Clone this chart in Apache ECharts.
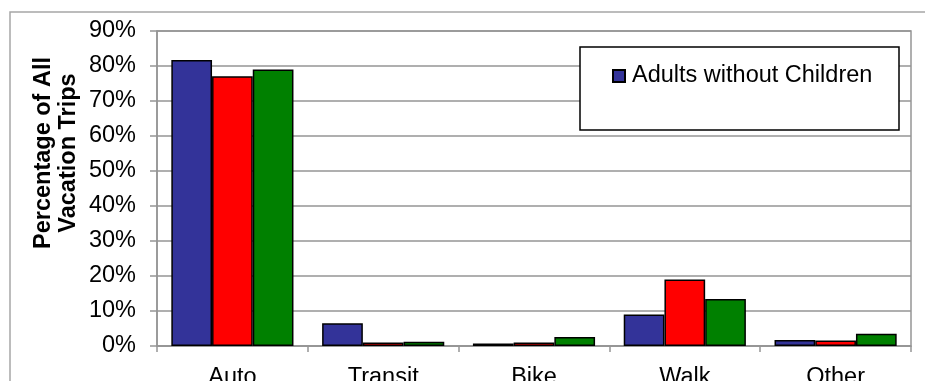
<!DOCTYPE html>
<html>
<head>
<meta charset="utf-8">
<script src="https://cdn.jsdelivr.net/npm/echarts@6/dist/echarts.min.js"></script>
<style>
html,body{margin:0;padding:0;background:#fff;}
#chart{width:925px;height:381px;}
</style>
</head>
<body>
<div id="chart"></div>
<script>
const categories = ['Auto', 'Transit', 'Bike', 'Walk', 'Other'];
const seriesNames = ['Adults without Children', 'Adults with Children', 'All Households'];
const adultsNoChildren = [81.7, 6.5, 0.7, 9.0, 1.7];
const adultsWithChildren = [77.1, 1.0, 1.0, 19.0, 1.6];
const allTrips = [79.0, 1.2, 2.6, 13.4, 3.5];
const yTicks = [0, 10, 20, 30, 40, 50, 60, 70, 80, 90];
const colors = ['#333399', '#FF0000', '#008000'];
const legendShown = ['Adults without Children'];

const FONT = 'Liberation Sans, Arial, sans-serif';
const chart = echarts.init(document.getElementById('chart'), null, {renderer: 'canvas'});
const allSeries = [adultsNoChildren, adultsWithChildren, allTrips];

chart.setOption({
  animation: false,
  backgroundColor: '#ffffff',
  grid: {left: 157, right: 14, top: 31, bottom: 35, show: true, borderColor: '#959595', borderWidth: 1.5,
    containLabel: false, outerBoundsMode: 'none'},
  graphic: [
    {type: 'rect', z: 0, shape: {x: 10, y: 12, width: 1000, height: 1000}, style: {fill: 'none', stroke: '#a6a6a6', lineWidth: 1.5}},
    {type: 'text', z: 10, x: 56, y: 153, rotation: Math.PI / 2,
      style: {text: 'Percentage of All\nVacation Trips', font: 'bold 23.5px ' + FONT, fill: '#000', align: 'center', verticalAlign: 'middle', lineHeight: 25}},
    {type: 'rect', z: 20, shape: {x: 580, y: 47, width: 319, height: 83}, style: {fill: '#ffffff', stroke: '#000000', lineWidth: 1.5}}
  ],
  legend: {
    data: legendShown, z: 30, left: 612, top: 64, padding: 0,
    itemWidth: 12, itemHeight: 12, itemGap: 10, icon: 'rect',
    textStyle: {fontFamily: FONT, fontSize: 23.5, color: '#000', padding: [0, 0, 0, 2]}
  },
  xAxis: {
    type: 'category', data: categories,
    axisLine: {lineStyle: {color: '#959595', width: 1.5}},
    axisTick: {show: true, length: 6, alignWithLabel: false, lineStyle: {color: '#959595', width: 1.5}},
    axisLabel: {fontFamily: FONT, fontSize: 23.5, color: '#000', margin: 20}
  },
  yAxis: {
    type: 'value', min: 0, max: 90, interval: 10,
    axisLine: {show: true, lineStyle: {color: '#959595', width: 1.5}},
    axisTick: {show: true, length: 7, lineStyle: {color: '#959595', width: 1.5}},
    splitLine: {lineStyle: {color: '#959595', width: 1.5}},
    axisLabel: {fontFamily: FONT, fontSize: 23.5, color: '#000', margin: 21,
      formatter: v => yTicks.includes(v) ? v + '%' : ''}
  },
  series: allSeries.map((d, i) => ({
    name: seriesNames[i], type: 'bar', data: d,
    barGap: '0%', barCategoryGap: '19%',
    itemStyle: {color: colors[i], borderColor: '#000', borderWidth: 1.5}
  }))
});
</script>
</body>
</html>
